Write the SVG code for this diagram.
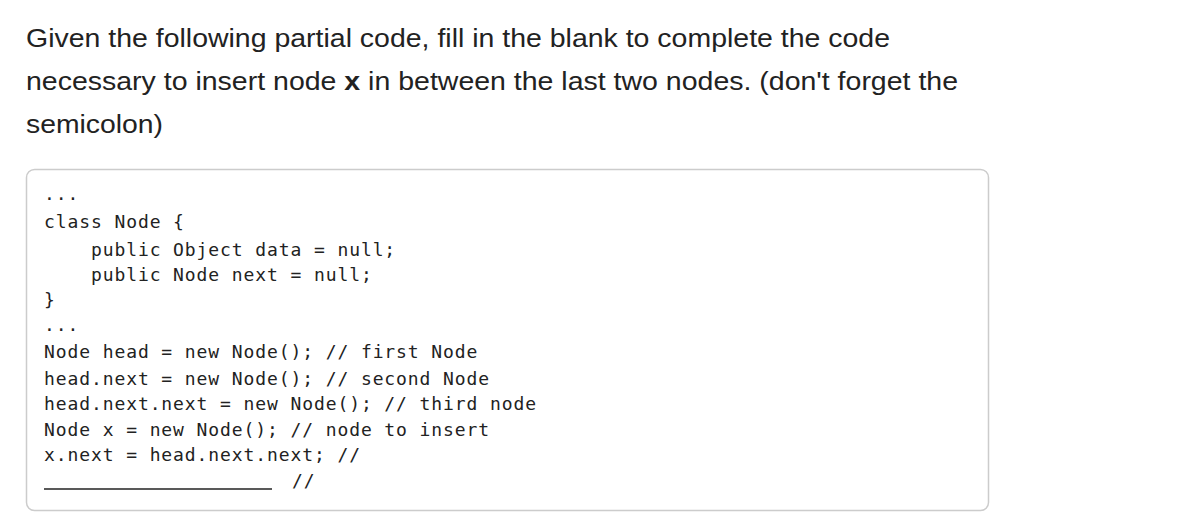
<svg xmlns="http://www.w3.org/2000/svg" width="1198" height="520" viewBox="0 0 1198 520">
<style>
.q{font-family:"Liberation Sans",Arial,sans-serif;font-size:26px;fill:#222}
.c{font-family:"DejaVu Sans Mono","Liberation Mono",monospace;font-size:18px;letter-spacing:0.9px;fill:#222;white-space:pre}
</style>
<rect width="1198" height="520" fill="#fff"/>
<text class="q" x="26" y="47" textLength="864" lengthAdjust="spacingAndGlyphs">Given the following partial code, fill in the blank to complete the code</text>
<text class="q" x="26" y="90" textLength="932" lengthAdjust="spacingAndGlyphs">necessary to insert node <tspan font-weight="bold">x</tspan> in between the last two nodes. (don't forget the</text>
<text class="q" x="26" y="133" textLength="137" lengthAdjust="spacingAndGlyphs">semicolon)</text>
<rect x="26.5" y="169.5" width="962" height="341" rx="8" fill="#fff" stroke="#ccc" stroke-width="1.5"/>
<text class="c" x="44" y="200">...</text>
<text class="c" x="44" y="228">class Node {</text>
<text class="c" x="44" y="256">    public Object data = null;</text>
<text class="c" x="44" y="281">    public Node next = null;</text>
<text class="c" x="44" y="306">}</text>
<text class="c" x="44" y="331">...</text>
<text class="c" x="44" y="358">Node head = new Node(); // first Node</text>
<text class="c" x="44" y="385">head.next = new Node(); // second Node</text>
<text class="c" x="44" y="410">head.next.next = new Node(); // third node</text>
<text class="c" x="44" y="436">Node x = new Node(); // node to insert</text>
<text class="c" x="44" y="461">x.next = head.next.next; //</text>
<line x1="44" y1="489" x2="272" y2="489" stroke="#222" stroke-width="1.5"/>
<text class="c" x="292" y="487">//</text>
</svg>
